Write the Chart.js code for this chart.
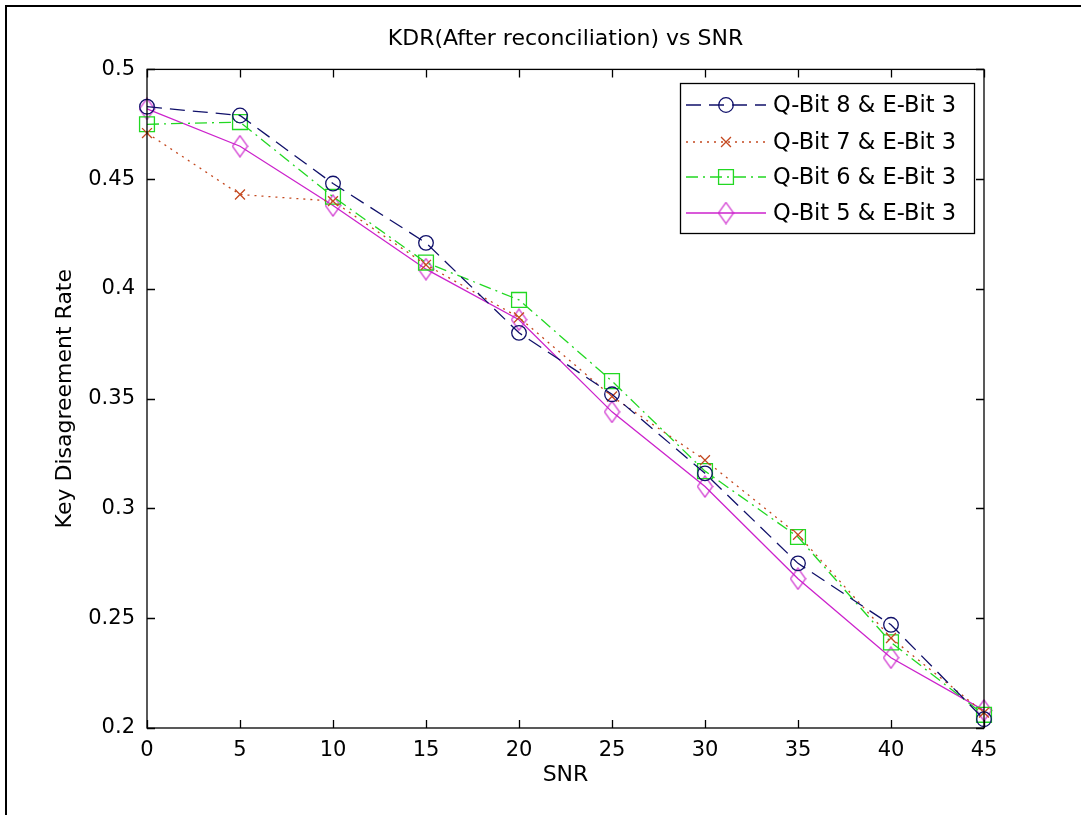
<!DOCTYPE html>
<html lang="en">
<head>
<meta charset="UTF-8">
<title>KDR vs SNR</title>
<script src="https://cdn.jsdelivr.net/npm/chart.js"></script>
<style>
  html, body {
    margin: 0;
    padding: 0;
    background: #fff;
  }
  #wrap {
    width: 1081px;
    height: 815px;
  }
</style>
</head>
<body>
<div id="wrap"><canvas id="kdrChart" width="1081" height="815"></canvas></div>

<script>
// data
const snr = [0, 5, 10, 15, 20, 25, 30, 35, 40, 45];
const qbit8 = [0.483, 0.479, 0.448, 0.421, 0.380, 0.352, 0.316, 0.275, 0.247, 0.204];
const qbit7 = [0.471, 0.443, 0.440, 0.411, 0.387, 0.351, 0.322, 0.288, 0.241, 0.207];
const qbit6 = [0.475, 0.476, 0.442, 0.412, 0.395, 0.358, 0.317, 0.287, 0.239, 0.206];
const qbit5 = [0.482, 0.465, 0.438, 0.409, 0.386, 0.344, 0.310, 0.268, 0.232, 0.208];
const seriesNames = ['Q-Bit 8 & E-Bit 3', 'Q-Bit 7 & E-Bit 3', 'Q-Bit 6 & E-Bit 3', 'Q-Bit 5 & E-Bit 3'];
const xTicks = ['0', '5', '10', '15', '20', '25', '30', '35', '40', '45'];
const yTicks = ['0.2', '0.25', '0.3', '0.35', '0.4', '0.45', '0.5'];

const FONT = "'DejaVu Sans', sans-serif";
const FSIZE = 21;

// narrow diamond marker like matlab's 'd'
function makeDiamond(color) {
  const c = document.createElement('canvas');
  c.width = 17; c.height = 23;
  const g = c.getContext('2d');
  g.strokeStyle = color;
  g.lineWidth = 1.2;
  g.beginPath();
  g.moveTo(8.5, 1); g.lineTo(16, 11.5); g.lineTo(8.5, 22); g.lineTo(1, 11.5);
  g.closePath();
  g.stroke();
  return c;
}

function pts(vals) {
  return snr.map((x, i) => ({ x: x, y: vals[i] }));
}

const colors = ['#10106a', '#c4481f', '#22d822', '#cc22cc'];

const datasets = [
  { label: seriesNames[0], data: pts(qbit8), borderColor: colors[0], borderDash: [15, 8],
    pointStyle: 'circle', pointRadius: 7.3 },
  { label: seriesNames[1], data: pts(qbit7), borderColor: colors[1], borderDash: [2, 5],
    pointStyle: 'crossRot', pointRadius: 7 },
  { label: seriesNames[2], data: pts(qbit6), borderColor: colors[2], borderDash: [12, 5, 2, 5],
    pointStyle: 'rect', pointRadius: 10.5 },
  { label: seriesNames[3], data: pts(qbit5), borderColor: colors[3], borderDash: [],
    pointStyle: makeDiamond(colors[3]), pointRadius: 10 }
].map(d => Object.assign(d, {
  borderWidth: 1.3,
  pointBorderColor: d.borderColor,
  pointBackgroundColor: 'rgba(0,0,0,0)',
  pointBorderWidth: 1.3,
  tension: 0,
  fill: false,
  clip: false
}));

// white page, figure border, axes box with inward ticks, legend
const matlabLook = {
  id: 'matlabLook',
  beforeDraw(chart) {
    const ctx = chart.ctx;
    ctx.save();
    ctx.fillStyle = '#fff';
    ctx.fillRect(0, 0, chart.width, chart.height);
    ctx.strokeStyle = '#000';
    ctx.lineWidth = 2;
    ctx.beginPath();
    ctx.moveTo(6, chart.height);
    ctx.lineTo(6, 6);
    ctx.lineTo(chart.width, 6);
    ctx.stroke();
    ctx.restore();
  },
  afterDatasetsDraw(chart) {
    const ctx = chart.ctx;
    const a = chart.chartArea;
    const xs = chart.scales.x, ys = chart.scales.y;
    const len = 8;
    ctx.save();
    ctx.strokeStyle = '#000';
    ctx.lineWidth = 1.3;
    ctx.strokeRect(a.left, a.top, a.right - a.left, a.bottom - a.top);
    ctx.beginPath();
    xTicks.forEach(t => {
      const px = Math.round(xs.getPixelForValue(+t)) + 0.5;
      ctx.moveTo(px, a.bottom); ctx.lineTo(px, a.bottom - len);
      ctx.moveTo(px, a.top); ctx.lineTo(px, a.top + len);
    });
    yTicks.forEach(t => {
      const py = Math.round(ys.getPixelForValue(+t)) + 0.5;
      ctx.moveTo(a.left, py); ctx.lineTo(a.left + len, py);
      ctx.moveTo(a.right, py); ctx.lineTo(a.right - len, py);
    });
    ctx.stroke();

    // legend box
    const bx = 680, by = 83, bw = 294, bh = 150;
    ctx.fillStyle = '#fff';
    ctx.fillRect(bx, by, bw, bh);
    ctx.lineWidth = 1.3;
    ctx.strokeRect(bx + 0.5, by + 0.5, bw, bh);
    const rows = [105, 142, 177, 213];
    ctx.font = '22.5px ' + FONT;
    ctx.textBaseline = 'middle';
    ctx.textAlign = 'left';
    chart.data.datasets.forEach((ds, i) => {
      const y = rows[i];
      ctx.strokeStyle = ds.borderColor;
      ctx.lineWidth = ds.borderWidth;
      ctx.setLineDash(ds.borderDash);
      ctx.beginPath();
      ctx.moveTo(686, y);
      ctx.lineTo(766, y);
      ctx.stroke();
      ctx.setLineDash([]);
      ctx.fillStyle = 'rgba(0,0,0,0)';
      Chart.helpers.drawPoint(ctx, {
        pointStyle: ds.pointStyle,
        radius: ds.pointRadius,
        rotation: 0,
        borderWidth: ds.pointBorderWidth
      }, 726, y);
      ctx.fillStyle = '#000';
      ctx.fillText(ds.label, 773, y + 1);
    });
    ctx.restore();
  }
};

// matlab-style fonts
Chart.defaults.font.family = FONT;
Chart.defaults.font.size = FSIZE;
Chart.defaults.color = '#000';

new Chart(document.getElementById('kdrChart'), {
  type: 'line',
  data: { datasets: datasets },
  options: {
    responsive: false,
    animation: false,
    layout: { padding: { left: 0, right: 97, top: 0, bottom: 0 } },
    plugins: {
      legend: { display: false },
      tooltip: { enabled: false },
      title: {
        display: true,
        text: 'KDR(After reconciliation) vs SNR',
        fullSize: false,
        font: { size: 22, weight: 'normal' },
        padding: { top: 26, bottom: 17 }
      }
    },
    scales: {
      x: {
        type: 'linear',
        min: 0,
        max: 45,
        afterFit: s => { s.height = 87; },
        afterBuildTicks: s => { s.ticks = xTicks.map(t => ({ value: +t })); },
        ticks: { padding: 10, autoSkip: false, maxRotation: 0, callback: v => String(v) },
        grid: { display: false, drawTicks: false },
        border: { display: false },
        title: { display: true, text: 'SNR', font: { size: 22 }, padding: { top: 0, bottom: 27 } }
      },
      y: {
        min: 0.2,
        max: 0.5,
        afterFit: s => { s.width = 147; },
        afterBuildTicks: s => { s.ticks = yTicks.map(t => ({ value: +t })); },
        ticks: {
          padding: 12,
          callback: v => yTicks.find(t => Math.abs(+t - v) < 1e-9) || ''
        },
        grid: { display: false, drawTicks: false },
        border: { display: false },
        title: { display: true, text: 'Key Disagreement Rate', font: { size: 22 }, padding: { top: 52, bottom: 0 } }
      }
    }
  },
  plugins: [matlabLook]
});
</script>
</body>
</html>
